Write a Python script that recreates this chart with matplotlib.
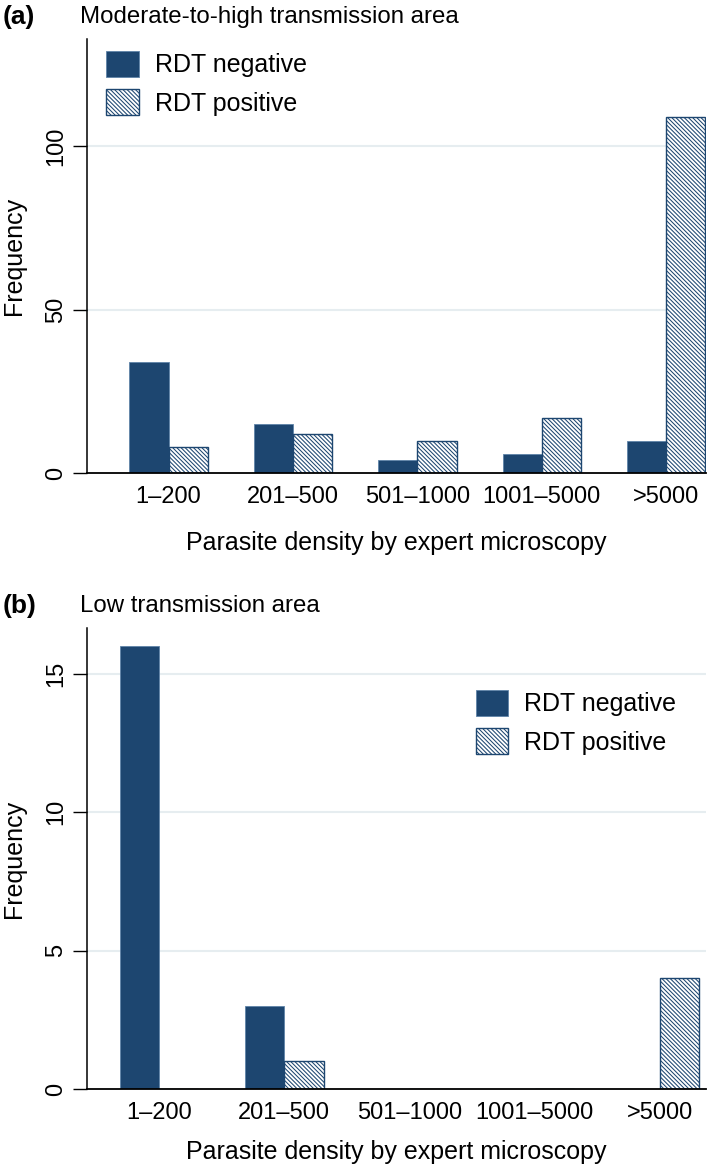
import matplotlib
matplotlib.use('Agg')
import matplotlib.pyplot as plt
import numpy as np

plt.rcParams['font.family'] = ['Liberation Sans', 'DejaVu Sans']
plt.rcParams['hatch.linewidth'] = 0.75

categories = ['1\u2013200', '201\u2013500', '501\u20131000', '1001\u20135000', '>5000']
high_neg = [34, 15, 4, 6, 10]
high_pos = [8, 12, 10, 17, 109]
low_neg = [16, 3, 0, 0, 0]
low_pos = [0, 1, 0, 0, 4]

NAVY = '#1d4670'
GRID = '#e6edf0'
bar_w = 0.315

fig = plt.figure(figsize=(7.09, 11.69), dpi=100)


def panel(rect, neg, pos, ylim, yticks, xlim, tag, title, leg_anchor, xpad):
    ax = fig.add_axes(rect)
    x = np.arange(len(categories))
    ax.bar(x - bar_w / 2, neg, bar_w, color=NAVY, edgecolor='#5f83a8',
           linewidth=0.6, label='RDT negative', zorder=3)
    ax.bar(x + bar_w / 2, pos, bar_w, color='white', edgecolor=NAVY,
           hatch='\\' * 8, linewidth=1.0, label='RDT positive', zorder=3)
    ax.set_xlim(*xlim)
    ax.set_ylim(*ylim)
    ax.set_yticks(yticks)
    ax.set_yticklabels([str(t) for t in yticks], rotation=90, va='center', fontsize=17)
    for t in yticks:
        if t > 0:
            ax.axhline(t, color=GRID, linewidth=1.5, zorder=1)
    ax.set_xticks(x)
    ax.set_xticklabels(categories, fontsize=17)
    ax.tick_params(axis='x', length=0, pad=9)
    ax.tick_params(axis='y', length=10, width=1, pad=4)
    for s in ['top', 'right']:
        ax.spines[s].set_visible(False)
    ax.spines['left'].set_linewidth(1.1)
    ax.spines['bottom'].set_linewidth(1.3)
    ax.spines['bottom'].set_zorder(4)
    ax.set_ylabel('Frequency', fontsize=18, labelpad=14)
    ax.set_xlabel('Parasite density by expert microscopy', fontsize=18, labelpad=xpad)
    ax.legend(loc='upper left', bbox_to_anchor=leg_anchor, frameon=False,
              fontsize=18, handlelength=1.3, handleheight=1.2,
              handletextpad=0.64, labelspacing=0.48, borderaxespad=0, borderpad=0)
    top = rect[1] + rect[3]
    fig.text(0.003, top + 0.0185, tag, fontsize=19, fontweight='bold', va='center')
    fig.text(0.113, top + 0.0185, title, fontsize=17.3, va='center')
    return ax


panel([0.1227, 0.5951, 0.873, 0.3715], high_neg, high_pos, (0, 132.8), [0, 50, 100],
      (-0.656, 4.32), '(a)', 'Moderate-to-high transmission area', (0.031, 0.972), 17)
panel([0.1227, 0.0684, 0.873, 0.3944], low_neg, low_pos, (0, 16.66), [0, 5, 10, 15],
      (-0.576, 4.37), '(b)', 'Low transmission area', (0.628, 0.865), 12)

plt.savefig('out.png', dpi=100)
